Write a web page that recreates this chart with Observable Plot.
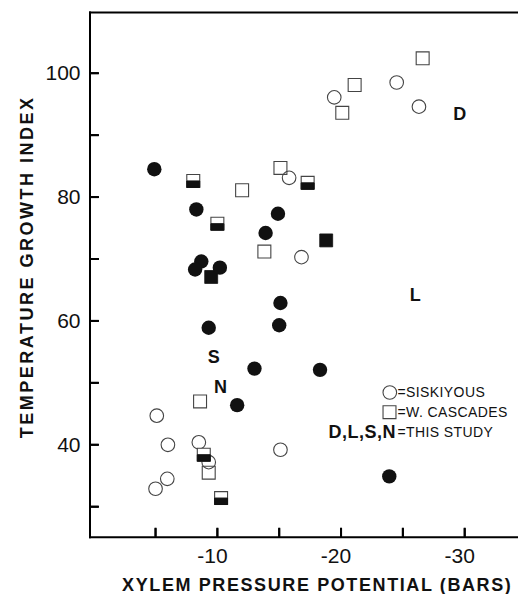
<!DOCTYPE html>
<html>
<head>
<meta charset="utf-8">
<script src="https://cdn.jsdelivr.net/npm/d3@7"></script>
<script src="https://cdn.jsdelivr.net/npm/@observablehq/plot@0.6"></script>
<style>
html, body { margin: 0; padding: 0; background: #fff; }
#chart svg { display: block; }
</style>
</head>
<body>
<div id="chart"></div>
<script>
// ---- Data ----
// This study: filled circles
const studyCircleX = [-4.9, -8.3, -14.9, -13.9, -8.7, -8.2, -10.2, -15.1, -15.0, -9.3, -13.0, -18.3, -11.6, -23.9];
const studyCircleY = [84.5, 78.0, 77.3, 74.2, 69.6, 68.3, 68.6, 62.9, 59.3, 58.9, 52.3, 52.1, 46.4, 34.9];
// This study: filled squares
const studySquareX = [-18.8, -9.5];
const studySquareY = [73.0, 67.1];
// Half-filled squares
const halfSquareX = [-8.05, -17.3, -10.0, -8.9, -10.3];
const halfSquareY = [82.6, 82.3, 75.7, 38.4, 31.4];
// W. Cascades: open squares
const cascadesX = [-12.0, -15.1, -13.8, -8.6, -9.3, -26.6, -21.1, -20.1];
const cascadesY = [81.1, 84.7, 71.2, 47.0, 35.5, 102.4, 98.1, 93.6];
// Siskiyous: open circles
const siskiyousX = [-15.8, -16.8, -5.1, -6.0, -8.5, -9.3, -15.1, -5.95, -5.0, -19.45, -24.5, -26.3];
const siskiyousY = [83.1, 70.3, 44.7, 40.0, 40.4, 37.2, 39.2, 34.5, 32.9, 96.1, 98.5, 94.6];
// Site letters (this study)
const siteLabels = ["D", "L", "S", "N"];
const siteX = [-29.6, -26.0, -9.7, -10.25];
const siteY = [93.3, 64.1, 54.1, 49.3];
// Ticks
const xTicks = [-5, -10, -15, -20, -25, -30];
const xTickLabels = [-10, -20, -30];
const yTicks = [30, 40, 50, 60, 70, 80, 90, 100];
const yTickLabels = [40, 60, 80, 100];
// Text
const xTitle = "XYLEM PRESSURE POTENTIAL (BARS)";
const yTitle = "TEMPERATURE GROWTH INDEX";
const legendSiskiyous = "=SISKIYOUS";
const legendCascades = "=W. CASCADES";
const legendStudyKey = "D,L,S,N";
const legendStudy = "=THIS STUDY";

const zip = (xs, ys) => xs.map((x, i) => ({x, y: ys[i]}));
const ink = "#111";
const openInk = "#444";

const bottomHalf = {
  draw(ctx, size) {
    const s = Math.sqrt(size);
    ctx.moveTo(-s / 2, 0);
    ctx.lineTo(s / 2, 0);
    ctx.lineTo(s / 2, s / 2);
    ctx.lineTo(-s / 2, s / 2);
    ctx.closePath();
  }
};
const tickLen = 9;
// inward tick glyphs: short segments drawn from the axis into the plot
const tickRight = {draw(ctx) { ctx.moveTo(0, 0); ctx.lineTo(tickLen, 0); }};
const tickUp = {draw(ctx) { ctx.moveTo(0, 0); ctx.lineTo(0, -tickLen); }};

const W = 518, H = 594;
const mL = 89.5, mR = 0, mT = 12, mB = 57.3;
const sqR = 7.3;

const chart = Plot.plot({
  width: W,
  height: H,
  marginLeft: mL,
  marginRight: mR,
  marginTop: mT,
  marginBottom: mB,
  style: {fontFamily: "'Liberation Sans', Arial, sans-serif", fontSize: "14px", background: "#fff"},
  x: {type: "linear", domain: [0.3, -34.35], axis: null},
  y: {type: "linear", domain: [25.08, 109.8], axis: null},
  marks: [
    Plot.frame({anchor: "top", stroke: "black", strokeWidth: 2}),
    Plot.frame({anchor: "left", stroke: "black", strokeWidth: 2}),
    Plot.frame({anchor: "bottom", stroke: "black", strokeWidth: 2}),
    // inward ticks
    Plot.dot(yTicks, {y: d => d, frameAnchor: "left", symbol: tickRight, r: 5, fill: "none", stroke: "black", strokeWidth: 2}),
    Plot.dot(xTicks, {x: d => d, frameAnchor: "bottom", symbol: tickUp, r: 5, fill: "none", stroke: "black", strokeWidth: 2}),
    Plot.axisY(yTicks, {tickSize: -tickLen, stroke: "black", strokeWidth: 2, tickFormat: () => "", label: null}),
    Plot.axisX(xTicks, {tickSize: -tickLen, stroke: "black", strokeWidth: 2, tickFormat: () => "", label: null}),
    // tick labels
    Plot.axisY(yTickLabels, {tickSize: 0, tickPadding: 9.5, label: null, fontSize: 21, fill: ink}),
    Plot.axisX(xTickLabels, {tickSize: 0, tickPadding: 11, label: null, fontSize: 21, fill: ink, dx: -5,
      tickFormat: d => "-" + Math.abs(d)}),
    // axis titles
    Plot.text([xTitle], {frameAnchor: "bottom", lineAnchor: "middle", textAnchor: "middle", dx: 13, dy: 48.3,
      fontSize: 18, fontWeight: "bold", fill: ink}),
    Plot.text([yTitle], {frameAnchor: "left", lineAnchor: "middle", textAnchor: "middle", rotate: -90, dx: -62.8, dy: -8,
      fontSize: 18, fontWeight: "bold", fill: ink}),
    // data: open symbols
    Plot.dot(zip(siskiyousX, siskiyousY), {x: "x", y: "y", r: 6.8, stroke: openInk, strokeWidth: 1.1, fill: "none"}),
    Plot.dot(zip(cascadesX, cascadesY), {x: "x", y: "y", r: sqR, symbol: "square", stroke: openInk, strokeWidth: 1.1, fill: "none"}),
    // half-filled squares
    Plot.dot(zip(halfSquareX, halfSquareY), {x: "x", y: "y", r: sqR, symbol: "square", stroke: openInk, strokeWidth: 1.1, fill: "#fff"}),
    Plot.dot(zip(halfSquareX, halfSquareY), {x: "x", y: "y", r: sqR, symbol: bottomHalf, fill: ink, stroke: ink, strokeWidth: 1}),
    // filled symbols
    Plot.dot(zip(studySquareX, studySquareY), {x: "x", y: "y", r: sqR, symbol: "square", fill: ink, stroke: ink, strokeWidth: 0.8}),
    Plot.dot(zip(studyCircleX, studyCircleY), {x: "x", y: "y", r: 7.2, fill: ink, stroke: "none"}),
    // site letters
    Plot.text(siteLabels.map((t, i) => ({t, x: siteX[i], y: siteY[i]})), {x: "x", y: "y", text: "t",
      fontSize: 18, fontWeight: "bold", fill: ink}),
    // legend
    Plot.dot([0], {frameAnchor: "top-left", dx: 299.8, dy: 380, r: 6.8, stroke: openInk, strokeWidth: 1.1, fill: "none"}),
    Plot.dot([0], {frameAnchor: "top-left", dx: 299.5, dy: 399.7, r: sqR, symbol: "square", stroke: openInk, strokeWidth: 1.1, fill: "none"}),
    Plot.text([legendSiskiyous], {frameAnchor: "top-left", lineAnchor: "middle", textAnchor: "start", dx: 307.5, dy: 380,
      fontSize: 14, fill: ink}),
    Plot.text([legendCascades], {frameAnchor: "top-left", lineAnchor: "middle", textAnchor: "start", dx: 307.5, dy: 399.7,
      fontSize: 14, fill: ink}),
    Plot.text([legendStudyKey], {frameAnchor: "top-left", lineAnchor: "middle", textAnchor: "end", dx: 306, dy: 419.7,
      fontSize: 18, fontWeight: "bold", fill: ink}),
    Plot.text([legendStudy], {frameAnchor: "top-left", lineAnchor: "middle", textAnchor: "start", dx: 307.5, dy: 419.7,
      fontSize: 14, fill: ink})
  ]
});

const spacing = new Map([
  [xTitle, "1.6px"],
  [yTitle, "2.5px"],
  [legendSiskiyous, "0.4px"],
  [legendCascades, "0.4px"],
  [legendStudy, "0.4px"],
  [legendStudyKey, "0.5px"]
]);
d3.select(chart).selectAll("text").each(function () {
  const s = spacing.get(this.textContent);
  if (s) this.setAttribute("letter-spacing", s);
});
document.getElementById("chart").appendChild(chart);
</script>
</body>
</html>
